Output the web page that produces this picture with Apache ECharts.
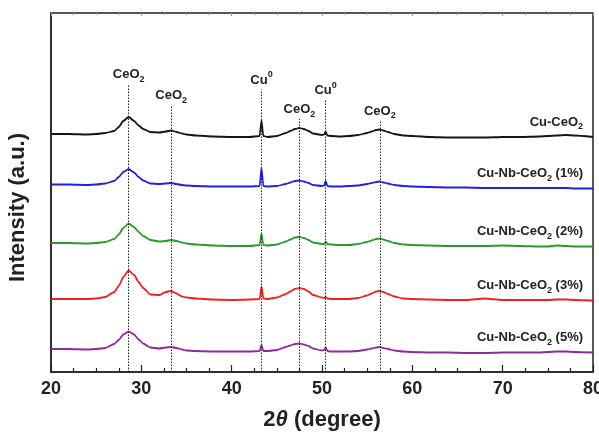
<!DOCTYPE html>
<html>
<head>
<meta charset="utf-8">
<title>XRD</title>
<script src="https://cdn.jsdelivr.net/npm/echarts/dist/echarts.min.js"></script>
<style>
body{margin:0;background:#fff;}
#main{width:599px;height:436px;}
</style>
</head>
<body>
<div id="main"></div>
<script>
// 2theta positions shared by all patterns
var twoTheta = [20,22,24,25,26,27,27.5,28,28.6,29.2,29.7,30.2,31,32,32.7,33.3,33.9,34.5,35,36,38,40,42,43.1,43.3,43.5,44,45,46,46.5,47,47.5,48,48.5,49,50,50.25,50.4,50.6,51,52,53,54,55,55.5,56,56.4,56.8,57.3,58,59,60,62,64,66,68,70,72,74,75,76,77,78,80];

// stacked intensities (a.u.)
var cuCeO2 = [238,238,237.5,238,239,241,245,251,255,251,246.5,243,240,239.5,240.5,241.5,240,238.5,237.5,236.5,235.5,235,235,236,251.5,236,235,236,239,241,243,244,243,241,238.5,237,237.5,240.5,236.5,236,235.5,236,237,239,240.5,242,242.5,241.5,240,238,236.5,236,235,234.5,234.5,234.5,235,235,235.5,236,236.5,237,236.5,235];
var nb1 = [187.5,187.5,187,187.5,188.5,191,195,200,203,199.5,195,191.5,188.5,188,188.5,189,188,187,186.5,186,185.5,185.5,185.5,186,204,186,185.5,186,188,189.5,191,191.5,190.5,189,187,186,186.5,191,186,185.5,185.5,186,186.5,188,189,190,190.5,189.5,188.5,187,186,185.5,185,184.5,184.5,184,184,184,184,184,184,184,183.5,183.5];
var nb2 = [129,129,128.5,129,130,133,137.5,144,148.5,145,140,136,132,130.5,131,132,131,129.5,128.5,127.5,126.5,126,126,127,138.5,127,126.5,127.5,130.5,132.5,134.5,135,134,132,129.5,128,128,130.5,128,127.5,127,127,128,130,131.5,133,133.5,132.5,131,129,127.5,127,126.5,126,126,126,126.5,126,125.5,125.5,126.5,126,125.5,125.5];
var nb3 = [73,73,73,73.5,75,80,86,95,101.5,97,90,84,77.5,77,80,81,78.5,75.5,74.5,73.5,72.5,72,72.5,73,85.5,73.5,73,74.5,78,80.5,83,84,83,80.5,77,74.5,74,75,73.5,73,73,73,74,76.5,78.5,80.5,81,80,78,75.5,73.5,73,72.5,72,72,73.5,72,72,72,72,72.5,72.5,72,71.5];
var nb5 = [23,23,22.5,23,24,28,32,37.5,40.5,37.5,32.5,28.5,24.5,23.5,24.5,25,24,22.5,21.5,21,20.5,20.5,20.5,21,27,21,21,22,25,26.5,28,28.5,27.5,26,23.5,21.5,22,24.5,21,20.5,20.5,20.5,21,22.5,23.5,24.5,25,24,23,21.5,20.5,20,19.5,19.5,19,19,19.5,19.5,19.5,20,20.5,20.5,20,19.5];

var sampleNames = ['Cu-CeO{s|2}', 'Cu-Nb-CeO{s|2} (1%)', 'Cu-Nb-CeO{s|2} (2%)', 'Cu-Nb-CeO{s|2} (3%)', 'Cu-Nb-CeO{s|2} (5%)'];
var colors = ['#151515', '#1f1fe8', '#2a9a2a', '#ee2222', '#8e2a9e'];

// reflections marked with dotted lines
var peakPos = [28.6, 33.3, 43.3, 47.5, 50.4, 56.4];
var peakNames = ['CeO{s|2}', 'CeO{s|2}', 'Cu{u|0}', 'CeO{s|2}', 'Cu{u|0}', 'CeO{s|2}'];
var peakTops = [288, 267, 282.5, 253, 272, 251.5];

var xTicks = [20, 30, 40, 50, 60, 70, 80];

var FONT = 'Liberation Sans, Arial, sans-serif';
var rich = {
    s: {fontSize: 9, fontWeight: 'bold', fontFamily: FONT, color: '#222', verticalAlign: 'bottom', lineHeight: 19},
    u: {fontSize: 9, fontWeight: 'bold', fontFamily: FONT, color: '#222', verticalAlign: 'top', lineHeight: 19}
};

function pairs(ys) {
    var out = [];
    for (var i = 0; i < twoTheta.length; i++) out.push([twoTheta[i], ys[i]]);
    return out;
}

var myChart = echarts.init(document.getElementById('main'));

var allData = [cuCeO2, nb1, nb2, nb3, nb5];
var series = [];
for (var k = 0; k < allData.length; k++) {
    var ys = allData[k];
    series.push({
        type: 'line',
        data: pairs(ys),
        showSymbol: false,
        smooth: 0.2,
        smoothMonotone: 'x',
        lineStyle: {color: colors[k], width: 1.8},
        itemStyle: {color: colors[k]},
        z: 3,
        markPoint: {
            silent: true,
            symbol: 'circle',
            symbolSize: 0,
            data: [{coord: [78.9, ys[ys.length - 1] + 15]}],
            label: {
                show: true,
                position: 'left',
                distance: 0,
                formatter: sampleNames[k],
                fontSize: 13,
                fontWeight: 'bold',
                fontFamily: FONT,
                color: '#222',
                rich: rich
            }
        }
    });
}

// dotted reference lines with phase labels
var lines = [];
for (var p = 0; p < peakPos.length; p++) {
    lines.push([{coord: [peakPos[p], 0]}, {coord: [peakPos[p], peakTops[p]]}]);
}
series.push({
    type: 'line',
    data: [],
    z: 2,
    markLine: {
        silent: true,
        symbol: ['none', 'none'],
        lineStyle: {color: '#222', width: 1, type: [1.5, 1.5]},
        label: {
            show: true,
            position: 'end',
            distance: 0,
            formatter: function (params) { return peakNames[params.dataIndex]; },
            fontSize: 13,
            fontWeight: 'bold',
            fontFamily: FONT,
            color: '#222',
            rich: rich
        },
        data: lines
    }
});

var option = {
    animation: false,
    backgroundColor: '#fff',
    grid: {
        left: 51, right: 6, top: 13, bottom: 64,
        containLabel: false, outerBoundsMode: 'none',
        show: true, borderColor: '#222', borderWidth: 1.5, backgroundColor: 'transparent'
    },
    xAxis: [{
        type: 'value',
        min: 20, max: 80, interval: 10,
        name: '2{i|θ} (degree)',
        nameLocation: 'middle',
        nameGap: 37,
        nameTextStyle: {
            fontSize: 22, fontWeight: 'bold', fontFamily: FONT, color: '#222',
            rich: {i: {fontSize: 22, fontWeight: 'bold', fontStyle: 'italic', fontFamily: FONT, color: '#222'}}
        },
        axisLine: {onZero: false, lineStyle: {color: '#222', width: 1.5}},
        axisTick: {inside: true, length: 7, lineStyle: {color: '#222', width: 1.2}},
        minorTick: {show: true, splitNumber: 4, length: 4, lineStyle: {color: '#222', width: 1.2}},
        axisLabel: {
            fontSize: 18, fontWeight: 'bold', fontFamily: FONT, color: '#222', margin: 8,
            formatter: function (v) { return xTicks.indexOf(v) >= 0 ? String(v) : ''; }
        },
        splitLine: {show: false}
    }, {
        type: 'value',
        position: 'top',
        min: 20, max: 80, interval: 10,
        axisLine: {onZero: false, lineStyle: {color: '#555', width: 1.5}},
        axisTick: {inside: true, length: 3, lineStyle: {color: '#999'}},
        minorTick: {show: true, splitNumber: 4, length: 2, lineStyle: {color: '#aaa'}},
        axisLabel: {show: false},
        splitLine: {show: false}
    }],
    yAxis: [{
        type: 'value',
        min: 0, max: 359,
        name: 'Intensity (a.u.)',
        nameLocation: 'middle',
        nameGap: 22,
        nameTextStyle: {fontSize: 22, fontWeight: 'bold', fontFamily: FONT, color: '#222', padding: [0, 30, 0, 0]},
        axisLine: {show: true, onZero: false, lineStyle: {color: '#222', width: 1.5}},
        axisTick: {show: false},
        axisLabel: {show: false},
        splitLine: {show: false}
    }],
    series: series
};

myChart.setOption(option, true);
</script>
</body>
</html>
